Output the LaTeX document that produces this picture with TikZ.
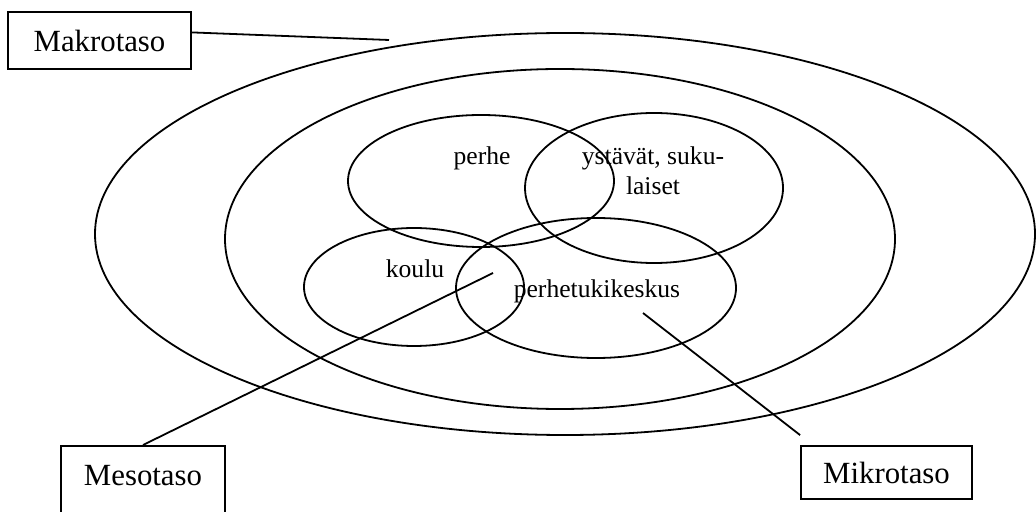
\documentclass[tikz,border=0pt]{standalone}
\usepackage{fontspec}
\setmainfont{Liberation Serif}
\usetikzlibrary{shapes.geometric,positioning}

\begin{document}
\begin{tikzpicture}[x=0.5pt, y=-0.5pt, line width=0.9pt,
	font=\fontsize{12.8}{15}\selectfont,
	ring/.style={draw, ellipse, inner sep=0pt},
	levelbox/.style={draw, rectangle, inner sep=0pt, font=\fontsize{15.4}{18}\selectfont},
	lbl/.style={anchor=base, inner sep=0pt}]
	
	\useasboundingbox (0,0) rectangle (1036,512);
	
	% levels
	\node [ring, minimum width=470pt, minimum height=201pt] (makro) at (565,234) {};
	\node [ring, minimum width=335pt, minimum height=170pt] (meso) at (560,239) {};
	
	\node [ring, minimum width=133pt, minimum height=66pt] (perhe) at (481,181) {};
	\node [ring, minimum width=129pt, minimum height=75pt] (ystavat) at (654,188) {};
	\node [ring, minimum width=110pt, minimum height=59pt] (koulu) at (414,287) {};
	\node [ring, minimum width=140pt, minimum height=70pt] (tuki) at (596,288) {};
	
	\node [lbl] (perhelbl) at (482,165) {perhe};
	\node [align=center, inner sep=0pt] (ystavatlbl) at (653,171) {ystävät, suku-\\laiset};
	\node [lbl] (koululbl) at (415,278) {koulu};
	\node [lbl] (tukilbl) at (597,298) {perhetukikeskus};
	
	% boxes
	\node [levelbox, minimum width=91.5pt, minimum height=28.5pt] (makrobox) at (99.5,40.5) {Makrotaso};
	\node [levelbox, minimum width=85.5pt, minimum height=26.5pt] (mikrobox) at (886.5,472.5) {Mikrotaso};
	\node [levelbox, minimum width=82pt, anchor=north, inner ysep=9.8pt, text depth=20pt] (mesobox) at (143,445) {Mesotaso};
	
	\coordinate (makroend) at (389,40);
	\coordinate (mesoend) at (493,273);
	\coordinate (mikrostart) at (643,313);
	
	\draw (makrobox.5) -- (makroend);
	\draw (mesobox.north) -- (mesoend);
	\draw (mikrostart) -- ([yshift=5pt]mikrobox.north west);
\end{tikzpicture}
\end{document}
